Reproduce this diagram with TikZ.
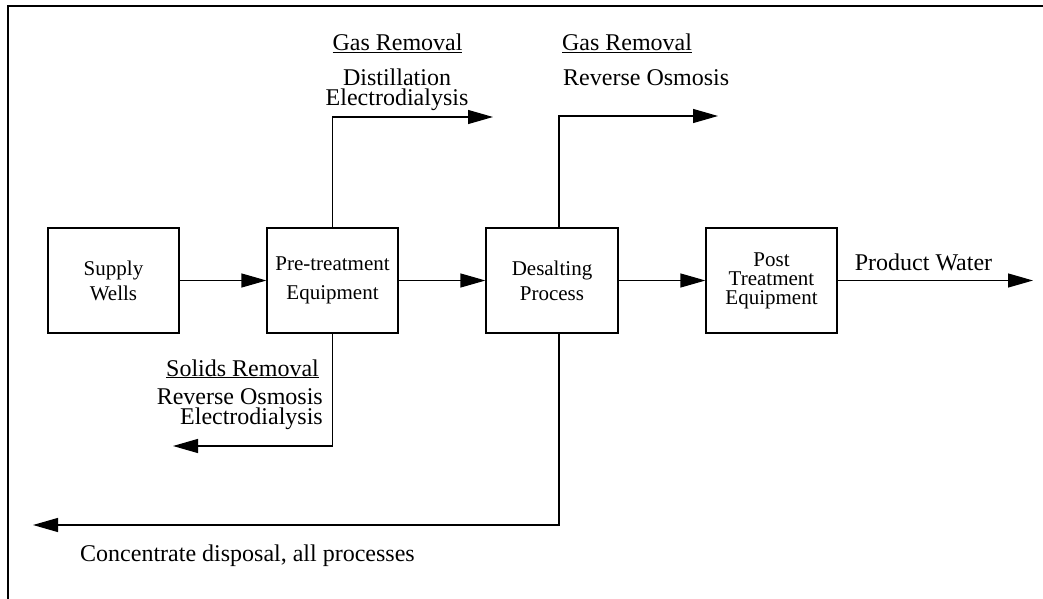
\documentclass[tikz,border=0pt]{standalone}
\usepackage{fontspec}
\setmainfont{Liberation Serif}
\usetikzlibrary{arrows.meta}
\begin{document}
\begin{tikzpicture}[x=1pt,y=-1pt,
  box/.style={draw, line width=1.2pt, inner sep=0pt, align=center, minimum height=105pt},
  conn/.style={line width=1.2pt},
  arr/.style={conn, -{Triangle[length=25pt,width=14pt]}},
  lbl/.style={inner sep=0pt, anchor=base},
  fa/.style={font=\fontsize{24}{24}\selectfont},
  stack/.style={inner sep=0pt, font=\fontsize{24}{20}\selectfont},
]
\useasboundingbox (0,0) rectangle (1043,599);
\draw[line width=1.4pt] (8,599) -- (8,6) -- (1043,6);

\node[box, minimum width=131pt, font=\fontsize{21}{25}\selectfont] (sw) at (113.5,280.5) {Supply\\Wells};
\node[box, minimum width=131pt, font=\fontsize{21}{29}\selectfont] (pre) at (332.5,280.5) {Pre-treatment\\Equipment};
\node[box, minimum width=132pt, font=\fontsize{21}{25}\selectfont] (des) at (552,280.5) {Desalting\\Process};
\node[box, minimum width=131pt, font=\fontsize{21}{19}\selectfont] (post) at (771.5,280.5) {Post\\Treatment\\Equipment};

\coordinate (pw) at (1033,280.5);
\coordinate (g1) at (493,117);
\coordinate (g2) at (718,116);
\coordinate (s1) at (173,446);
\coordinate (c1) at (33,525);

\draw[arr] (sw.east) -- (pre.west);
\draw[arr] (pre.east) -- (des.west);
\draw[arr] (des.east) -- (post.west);
\draw[arr] (post.east) -- (pw);
\draw[arr] (pre.north) |- (g1);
\draw[arr] ([xshift=7pt]des.north) |- (g2);
\draw[arr] (pre.south) |- (s1);
\draw[arr] ([xshift=7pt]des.south) |- (c1);

\node[lbl, fa] (gr1) at (397.5,51) {\underline{Gas Removal}};
\node[stack, align=center] (gtop) at (397,89.5) {Distillation\\Electrodialysis};

\node[lbl, fa] (gr2) at (627,51) {\underline{Gas Removal}};
\node[lbl, fa, anchor=base west] (ro1) at (563,85.5) {Reverse Osmosis};

\node[lbl, fa] (sr) at (242.5,376) {\underline{Solids Removal}};
\node[stack, align=right, anchor=east] (sbot) at (323,409.5) {Reverse Osmosis\\Electrodialysis};

\node[lbl, fa] (pwl) at (923.5,270) {Product Water};
\node[lbl, fa, anchor=base west] (cd) at (80,561) {Concentrate disposal, all processes};
\end{tikzpicture}
\end{document}
